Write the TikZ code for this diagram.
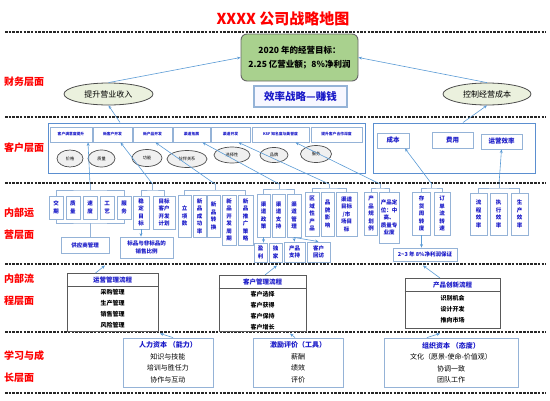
\documentclass[tikz,border=0pt]{standalone}
\usepackage{fontspec}
\setmainfont{Noto Sans CJK SC}
\usetikzlibrary{positioning,arrows.meta,shapes.geometric}
\definecolor{mapred}{HTML}{FF0000}
\definecolor{mapblue}{HTML}{1A1AC8}
\definecolor{flowblue}{HTML}{5B9BD5}
\definecolor{grpblue}{HTML}{5B8FD0}
\definecolor{boxblue}{HTML}{95B3D7}
\definecolor{goalgreen}{HTML}{A9D18E}
\definecolor{ellgreen}{HTML}{EBF1DE}
\tikzset{
  titleb/.style={font=\bfseries\fontsize{15}{17}\selectfont, text=mapred, inner sep=0pt},
  layerlab/.style={font=\bfseries\fontsize{10}{22}\selectfont, text=mapred, align=left,
    anchor=west, inner sep=0pt},
  sepline/.style={line width=1.2pt, dash pattern=on 2.5pt off 1.2pt, draw=black!85},
  goalb/.style={draw=black!60, fill=goalgreen, rounded corners=6pt, line width=0.9pt,
    align=center, font=\bfseries\fontsize{8.5}{14.5}\selectfont},
  aimell/.style={ellipse, draw=black!70, fill=ellgreen, line width=0.8pt, inner sep=0pt,
    font=\fontsize{8}{9}\selectfont},
  stratb/.style={draw=boxblue, fill=blue!3, line width=1.3pt, text=mapblue,
    font=\bfseries\fontsize{10.5}{12}\selectfont},
  grpb/.style={draw=grpblue, line width=1pt, inner sep=0pt},
  cusb/.style={draw=boxblue, line width=0.9pt, fill=white, text=mapblue, inner sep=0pt,
    minimum height=15, font=\bfseries\fontsize{3.8}{4.5}\selectfont},
  needell/.style={ellipse, draw=black!70, fill=black!6, line width=0.7pt, inner sep=0pt,
    minimum height=17, font=\fontsize{4.2}{5}\selectfont},
  costb/.style={draw=boxblue, line width=0.9pt, fill=white, text=mapblue, inner sep=0pt,
    minimum height=15, font=\bfseries\fontsize{6.5}{8}\selectfont},
  opb/.style={draw=boxblue, line width=0.8pt, fill=white, text=mapblue, align=center,
    inner sep=0pt, font=\bfseries\fontsize{5.5}{7.5}\selectfont},
  procb/.style={draw=black!65, line width=0.9pt, inner sep=0pt, anchor=north},
  prochead/.style={inner sep=0pt, minimum height=13, text=mapblue,
    font=\bfseries\fontsize{6.5}{8}\selectfont},
  procitems/.style={inner sep=0pt, align=center, font=\bfseries\fontsize{6}{11}\selectfont},
  learnb/.style={draw=boxblue, line width=0.9pt, align=center, inner sep=0pt,
    font=\fontsize{7}{11.5}\selectfont},
  flow/.style={-{Stealth[length=3.5pt, width=3pt]}, draw=flowblue, line width=0.6pt},
  brk/.style={draw=boxblue, line width=0.8pt},
}
\begin{document}
\begin{tikzpicture}[x=1pt, y=-1pt]
  \useasboundingbox (0,0) rectangle (550,400);
  % title and layers
  \node[titleb] (title) at (283,18.5) {XXXX 公司战略地图};
  \foreach \yy in {32,117,183,264,332,393}
    \draw[sepline] (5,\yy) -- (546,\yy);
  \node[layerlab] (lfin) at (4,82) {财务层面};
  \node[layerlab] (lcus) at (4,148) {客户层面};
  \node[layerlab] (lops) at (4,224) {内部运\\营层面};
  \node[layerlab] (lpro) at (4,290) {内部流\\程层面};
  \node[layerlab] (llrn) at (4,367) {学习与成\\长层面};
  % financial
  \node[goalb, minimum width=117, minimum height=47] (goal) at (299.5,57.5) {2020 年的经营目标：\\2.25 亿营业额；8\%净利润};
  \node[aimell, minimum width=89, minimum height=22] (incell) at (108.5,94) {提升营业收入};
  \node[stratb, minimum width=93, minimum height=21] (strat) at (300.5,96.5) {效率战略—赚钱};
  \node[aimell, minimum width=88, minimum height=22] (cutell) at (487,94) {控制经营成本};
  \draw[flow] (incell.north) -- (goal.west);
  \draw[flow] (cutell.north) -- (goal.east);
  % customer
  \node[grpb, minimum width=317, minimum height=50] (cusgrp) at (206.5,148) {};
  \node[grpb, minimum width=162, minimum height=50] (costgrp) at (454,148) {};
  \node[cusb, minimum width=42] (csat) at (71,134.5) {客户满意度提升};
  \node[cusb, minimum width=39] (cnew) at (112.5,134.5) {新客户开发};
  \node[cusb, minimum width=39] (cprod) at (152.5,134.5) {新产品开发};
  \node[cusb, minimum width=37] (cexp) at (191.5,134.5) {渠道拓展};
  \node[cusb, minimum width=39] (cdev) at (230.5,134.5) {渠道开发};
  \node[cusb, minimum width=57] (cksf) at (280.5,134.5) {KSF 知名度与美誉度};
  \node[cusb, minimum width=51] (cdeep) at (336.5,134.5) {提升客户合作深度};
  \node[needell, minimum width=26] (nprice) at (70,158.5) {价格};
  \node[needell, minimum width=27] (nqual) at (101.5,158.5) {质量};
  \node[needell, minimum width=30] (nfunc) at (147,158) {功能};
  \node[needell, minimum width=40] (npart) at (187,159) {伙伴关系};
  \node[needell, minimum width=36, minimum height=16] (nchoice) at (232,155) {选择性};
  \node[needell, minimum width=28, minimum height=15] (nbrand) at (274,155) {品牌};
  \node[needell, minimum width=31] (nserv) at (316,154) {服务};
  \node[costb, minimum width=32] (ccost) at (393,140.5) {成本};
  \node[costb, minimum width=41, minimum height=16] (cfee) at (452.5,140) {费用};
  \node[costb, minimum width=41] (ceff) at (501.5,141.5) {运营效率};
  \draw[flow] ([xshift=-86.5pt]cusgrp.north) -- (incell.south);
  \draw[flow] ([xshift=9pt]costgrp.north) -- (cutell.south);
  % internal operations
  \node[opb, minimum width=14, minimum height=23] (jq) at (56,207.5) {交\\期};
  \node[opb, minimum width=14, minimum height=23] (zl) at (73,207.5) {质\\量};
  \node[opb, minimum width=14, minimum height=23] (sd) at (90,207.5) {速\\度};
  \node[opb, minimum width=14, minimum height=23] (gy) at (107,207.5) {工\\艺};
  \node[opb, minimum width=14, minimum height=23] (fw) at (124,207.5) {服\\务};
  \node[opb, minimum width=48, minimum height=16] (gys) at (85,245) {供应商管理};
  \node[opb, minimum width=16, minimum height=33] (wd) at (141,212.5) {稳\\定\\目\\标};
  \node[opb, minimum width=22, minimum height=33] (mk) at (164,212.5) {目标\\客户\\开发\\计划};
  \node[opb, minimum width=53, minimum height=21] (bfb) at (146.5,247.5) {标品与非标品的\\销售比例};
  \node[opb, minimum width=13, minimum height=42] (lx) at (184.5,216) {立\\项\\数};
  \node[opb, minimum width=13, minimum height=42] (cg) at (199.5,216) {新\\品\\成\\功\\率};
  \node[opb, minimum width=13, minimum height=42] (zh) at (213.5,216) {新\\品\\转\\换};
  \node[opb, minimum width=14, minimum height=50] (zq) at (229,220) {新\\品\\开\\发\\周\\期};
  \node[opb, minimum width=15, minimum height=50] (tg) at (245.5,220) {新\\品\\推\\广\\策\\略};
  \node[opb, minimum width=13, minimum height=43] (zc) at (263.5,215.5) {渠\\道\\政\\策};
  \node[opb, minimum width=13, minimum height=43] (zs) at (278.5,215.5) {渠\\道\\支\\持};
  \node[opb, minimum width=14, minimum height=43] (zg) at (294,215.5) {渠\\道\\管\\理};
  \node[opb, minimum width=13, minimum height=19] (yl) at (260.5,252.5) {盈\\利};
  \node[opb, minimum width=13, minimum height=19] (dj) at (275.5,252.5) {独\\家};
  \node[opb, minimum width=21, minimum height=20] (cz) at (294.5,252) {产品\\支持};
  \node[opb, minimum width=23, minimum height=20] (hf) at (318.5,252) {客户\\回访};
  \node[opb, minimum width=14, minimum height=44] (qy) at (312,214) {区\\域\\性\\产\\品};
  \node[opb, minimum width=13, minimum height=44] (pp) at (327.5,214) {品\\牌\\影\\响};
  \node[opb, minimum width=21, minimum height=44] (qm) at (346.5,214) {渠道\\目标\\/市\\场目\\标};
  \node[opb, minimum width=13, minimum height=43] (gh) at (371,213.5) {产\\品\\规\\划\\例};
  \node[opb, minimum width=20, minimum height=51] (dw) at (389,217.5) {产品定\\位：中\\高、\\质量专\\业度};
  \node[opb, minimum width=18, minimum height=43] (ch) at (421.5,213.5) {存\\货\\周\\转\\度};
  \node[opb, minimum width=16, minimum height=43] (dd) at (442,213.5) {订\\单\\流\\转\\速};
  \node[opb, minimum width=64, minimum height=13] (lr) at (425,254.5) {2\textasciitilde3 年 8\%净利润保证};
  \node[opb, minimum width=17, minimum height=42] (lc) at (478.5,214) {流\\程\\效\\率};
  \node[opb, minimum width=17, minimum height=42] (zx) at (498.5,214) {执\\行\\效\\率};
  \node[opb, minimum width=17, minimum height=42] (sc) at (519.5,214) {生\\产\\效\\率};
  % brackets
  \coordinate (k1) at (90,190);
  \draw[brk] (jq.north) |- (k1) -| (fw.north);
  \draw[brk] (k1) -- ++(0,-6) coordinate (k1t);
  \coordinate (b1) at (90,223);
  \draw[brk] (jq.south) |- (b1) -| (fw.south);
  \draw[brk] (b1) -- (b1 |- gys.north);
  \coordinate (k2) at (152.5,190);
  \draw[brk] (wd.north) |- (k2) -| (mk.north);
  \draw[brk] (k2) -- ++(0,-6) coordinate (k2t);
  \coordinate (k3) at (215,190);
  \draw[brk] (lx.north) |- (k3) -| (tg.north);
  \draw[brk] (k3) -- ++(0,-6) coordinate (k3t);
  \coordinate (k4) at (279,189);
  \draw[brk] (zc.north) |- (k4) -| (zg.north);
  \draw[brk] (k4) -- ++(0,-5) coordinate (k4t);
  \coordinate (k5) at (329,188);
  \draw[brk] (qy.north) |- (k5) -| (qm.north);
  \draw[brk] (k5) -- ++(0,-4) coordinate (k5t);
  \coordinate (k6) at (380,188);
  \draw[brk] (gh.north) |- (k6) -| (dw.north);
  \draw[brk] (k6) -- ++(0,-4) coordinate (k6t);
  \coordinate (k7) at (431.75,188);
  \draw[brk] (ch.north) |- (k7) -| (dd.north);
  \draw[brk] (k7) -- ++(0,-4) coordinate (k7t);
  \coordinate (k8) at (499,188);
  \draw[brk] (lc.north) |- (k8) -| (sc.north);
  \draw[brk] (k8) -- ++(0,-4) coordinate (k8t);
  % links up to customer
  \draw[flow] (k1t) -- ([xshift=17pt]csat.south);
  \draw[flow] (k2t) -- ([xshift=8pt]cnew.south);
  \draw[flow] (k3t) -- ([xshift=3pt]cprod.south);
  \draw[flow] (k4t) -- ([xshift=11pt]cexp.south);
  \draw[flow] (k5t) -- ([xshift=8pt]cdev.south);
  \draw[flow] (k6t) -- ([xshift=15pt]cksf.south);
  \draw[flow] (k7t) -- ([xshift=12pt]ccost.south);
  \draw[flow] (k8t) -- (ceff.south);
  % links inside operations
  \draw[flow] (wd.south) -- (wd.south |- bfb.north);
  \draw[flow] (zc.south) -- (zc.south |- yl.north);
  \draw[flow] (zg.south) -- (cz.north);
  \draw[flow] (zg.south) -- (hf.north);
  \draw[flow] (ch.south) -- (ch.south |- lr.north);
  % internal processes
  \node[procb, minimum width=91, minimum height=58] (yy) at (112.5,273) {};
  \node[prochead, below=0pt of yy.north] (yyh) {运营管理流程};
  \draw[procb] (yy.west |- yyh.south) -- (yy.east |- yyh.south);
  \node[procitems, below=3pt of yyh] (yyi) {采购管理\\生产管理\\销售管理\\风险管理};
  \node[procb, minimum width=87, minimum height=56] (kh) at (262.5,275) {};
  \node[prochead, below=0pt of kh.north] (khh) {客户管理流程};
  \draw[procb] (kh.west |- khh.south) -- (kh.east |- khh.south);
  \node[procitems, below=2.5pt of khh] (khi) {客户选择\\客户获得\\客户保持\\客户增长};
  \node[procb, minimum width=95, minimum height=50] (cp) at (452.5,278) {};
  \node[prochead, below=0pt of cp.north] (cph) {产品创新流程};
  \draw[procb] (cp.west |- cph.south) -- (cp.east |- cph.south);
  \node[procitems, below=4pt of cph] (cpi) {识别机会\\设计开发\\推向市场};
  \coordinate (p1) at (105,265.5);
  \coordinate (p2) at (277,265.5);
  \coordinate (p3) at (423,265.5);
  \draw[flow] ([xshift=-17pt]yy.north) -- (p1);
  \draw[flow] ([xshift=2.5pt]kh.north) -- (p2);
  \draw[flow] ([xshift=-12.5pt]cp.north) -- (p3);
  % learning and growth
  \node[learnb, minimum width=90, minimum height=49] (hum) at (168,362.5) {\textcolor{mapblue}{\bfseries 人力资本 （能力）}\\知识与技能\\培训与胜任力\\协作与互动};
  \node[learnb, minimum width=90, minimum height=49] (inc) at (298,362.5) {\textcolor{mapblue}{\bfseries 激励评价（工具）}\\薪酬\\绩效\\评价};
  \node[learnb, minimum width=134, minimum height=49] (org) at (451,362.5) {\textcolor{mapblue}{\bfseries 组织资本 （态度）}\\文化（愿景-使命-价值观）\\协调一致\\团队工作};
  \coordinate (q1) at (160,333.5);
  \coordinate (q2) at (290,333.5);
  \coordinate (q3) at (440,333.5);
  \draw[flow] ([xshift=5pt]hum.north) -- (q1);
  \draw[flow] ([xshift=-3pt]inc.north) -- (q2);
  \draw[flow] ([xshift=-24pt]org.north) -- (q3);
\end{tikzpicture}
\end{document}
